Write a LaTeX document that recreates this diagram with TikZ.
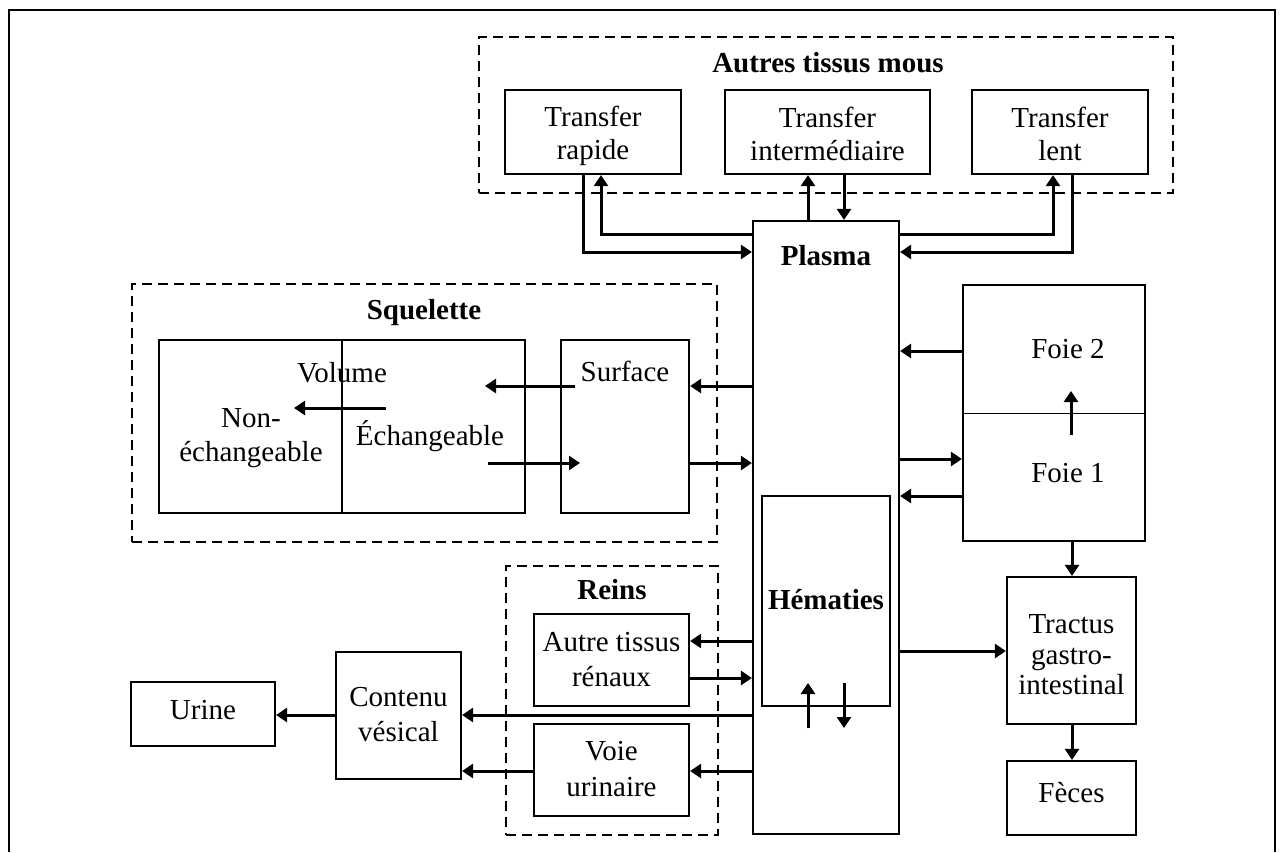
\documentclass[tikz,border=0pt]{standalone}
\usepackage{fontspec}
\setmainfont{Liberation Serif}
\usetikzlibrary{arrows.meta}
\begin{document}
\begin{tikzpicture}[x=1pt,y=-1pt,
  box/.style={draw,line width=2.2pt,inner sep=0pt},
  grp/.style={draw,line width=2.2pt,dash pattern=on 10pt off 6pt,inner sep=0pt},
  lbl/.style={inner sep=0pt,align=center,font=\fontsize{29}{34}\selectfont},
  ttl/.style={inner sep=0pt,align=center,font=\fontsize{29}{34}\selectfont\bfseries},
  arr/.style={line width=3pt,-{Triangle[length=11pt,width=14pt]}}]
\useasboundingbox (0,0) rectangle (1282,852);
\draw[line width=2.2pt] (9,852) -- (9,10) -- (1275,10) -- (1275,852);

% groups
\node[grp,minimum width=694pt,minimum height=156pt] (atm) at (826,115) {};
\node[ttl] (atmt) at (828,63) {Autres tissus mous};
\node[grp,minimum width=585pt,minimum height=258pt] (sq) at (424.5,413) {};
\node[ttl] (sqt) at (424,313) {Squelette};
\node[grp,minimum width=212pt,minimum height=269pt] (reins) at (612,700.5) {};
\node[ttl] (reinst) at (612,590) {Reins};

% boxes
\node[box,minimum width=176pt,minimum height=84pt] (tr) at (593,132) {};
\node[lbl,font=\fontsize{29}{33}\selectfont] (trt) at (593,136) {Transfer\\rapide};
\node[box,minimum width=205pt,minimum height=84pt] (ti) at (827.5,132) {};
\node[lbl,font=\fontsize{29}{33}\selectfont] (tit) at (827.5,133.5) {Transfer\\intermédiaire};
\node[box,minimum width=176pt,minimum height=84pt] (tl) at (1060,132) {};
\node[lbl,font=\fontsize{29}{33}\selectfont] (tlt) at (1060,133.5) {Transfer\\lent};

\node[box,minimum width=146pt,minimum height=613pt] (plasma) at (826,527.5) {};
\node[ttl] (plasmat) at (826,256) {Plasma};
\node[box,minimum width=128pt,minimum height=210pt] (hem) at (826,601) {};
\node[ttl] (hemt) at (826,600) {Hématies};

\node[box,minimum width=366pt,minimum height=173pt] (vol) at (342,426.5) {};
\draw[line width=2.2pt] (vol.north) -- (vol.south);
\node[lbl] (volt) at (342,373) {Volume};
\node[lbl] (nonech) at (251,438.5) {Non-\\échangeable};
\node[lbl] (ech) at (430,436) {Échangeable};
\node[box,minimum width=128pt,minimum height=173pt] (surf) at (625,426.5) {};
\node[lbl] (surft) at (625,371) {Surface};

\node[box,minimum width=182pt,minimum height=256pt] (foie) at (1054,413) {};
\draw[line width=1pt] (foie.west) -- (foie.east);
\node[lbl] (foie2) at (1068,349) {Foie 2};
\node[lbl] (foie1) at (1068,473) {Foie 1};

\node[box,minimum width=129pt,minimum height=147pt] (tgi) at (1071.5,650.5) {};
\node[lbl,font=\fontsize{29}{30.5}\selectfont] (tgit) at (1071.5,655) {Tractus\\gastro-\\intestinal};
\node[box,minimum width=129pt,minimum height=74pt] (feces) at (1071.5,798) {};
\node[lbl] (fecest) at (1071.5,793) {Fèces};

\node[box,minimum width=155pt,minimum height=92pt] (atr) at (611.5,660) {};
\node[lbl,font=\fontsize{29}{35}\selectfont] (atrt) at (611.5,660) {Autre tissus\\rénaux};
\node[box,minimum width=155pt,minimum height=92pt] (vu) at (611.5,770) {};
\node[lbl,font=\fontsize{29}{36}\selectfont] (vut) at (611.5,769) {Voie\\urinaire};
\node[box,minimum width=125pt,minimum height=127pt] (cv) at (398.5,715.5) {};
\node[lbl,font=\fontsize{29}{35}\selectfont] (cvt) at (398.5,714.5) {Contenu\\vésical};
\node[box,minimum width=144pt,minimum height=64pt] (urine) at (203,714) {};
\node[lbl] (urinet) at (203,710) {Urine};

% soft tissue exchanges
\draw[arr] (tr.south -| 583,0) |- (plasma.west |- 0,252);
\draw[arr] (plasma.west |- 0,234) -| (tr.south -| 601,0);
\draw[arr] (plasma.north -| 808,0) -- (ti.south -| 808,0);
\draw[arr] (ti.south -| 844,0) -- (plasma.north -| 844,0);
\draw[arr] (plasma.east |- 0,234) -| (tl.south -| 1053,0);
\draw[arr] (tl.south -| 1072,0) |- (plasma.east |- 0,252);

% skeleton
\draw[arr] (plasma.west |- 0,386) -- (surf.east |- 0,386);
\draw[arr] (surf.east |- 0,463) -- (plasma.west |- 0,463);
\coordinate (s1) at (575,386);
\coordinate (s2) at (485,386);
\coordinate (s3) at (488,463);
\coordinate (s4) at (580,463);
\coordinate (v1) at (386,408);
\coordinate (v2) at (294,408);
\draw[arr] (s1) -- (s2);
\draw[arr] (s3) -- (s4);
\draw[arr] (v1) -- (v2);

% liver
\draw[arr] (foie.west |- 0,351) -- (plasma.east |- 0,351);
\draw[arr] (plasma.east |- 0,459) -- (foie.west |- 0,459);
\draw[arr] (foie.west |- 0,496) -- (plasma.east |- 0,496);
\coordinate (f1) at (1071,435);
\coordinate (f2) at (1071,391);
\draw[arr] (f1) -- (f2);
\draw[arr] (foie.south -| 1072,0) -- (tgi.north -| 1072,0);
\draw[arr] (plasma.east |- 0,651) -- (tgi.west |- 0,651);
\draw[arr] (tgi.south -| 1072,0) -- (feces.north -| 1072,0);

% red cells
\coordinate (h1) at (808,728);
\coordinate (h2) at (808,683);
\coordinate (h3) at (844,683);
\coordinate (h4) at (844,728);
\draw[arr] (h1) -- (h2);
\draw[arr] (h3) -- (h4);

% kidneys
\draw[arr] (plasma.west |- 0,641) -- (atr.east |- 0,641);
\draw[arr] (atr.east |- 0,678) -- (plasma.west |- 0,678);
\draw[arr] (plasma.west |- 0,715) -- (cv.east |- 0,715);
\draw[arr] (plasma.west |- 0,771) -- (vu.east |- 0,771);
\draw[arr] (vu.west |- 0,771) -- (cv.east |- 0,771);
\draw[arr] (cv.west |- 0,715) -- (urine.east |- 0,715);
\end{tikzpicture}
\end{document}
